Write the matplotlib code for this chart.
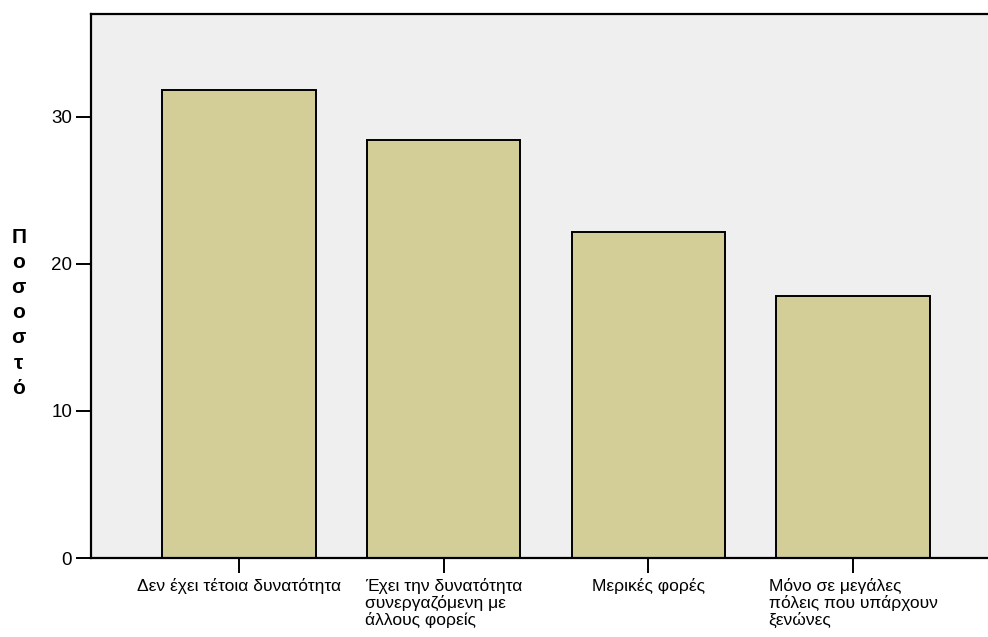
import matplotlib.pyplot as plt

plt.rcParams['font.family'] = ['Liberation Sans', 'DejaVu Sans']

categories = ['Δεν έχει τέτοια δυνατότητα',
              'Έχει την δυνατότητα\nσυνεργαζόμενη με\nάλλους φορείς',
              'Μερικές φορές',
              'Μόνο σε μεγάλες\nπόλεις που υπάρχουν\nξενώνες']
percent = [31.8, 28.4, 22.2, 17.8]
yticks = [0, 10, 20, 30]
ylabel = 'Ποσοστό'

fig = plt.figure(figsize=(9.88, 6.37), dpi=100)
ax = fig.add_axes([0.0921, 0.124, 0.921, 0.854])
ax.set_facecolor('#efefef')

x = range(len(categories))
ax.bar(x, percent, width=0.75, color='#d3ce98', edgecolor='black', linewidth=1.4)

ax.set_xlim(-0.723, 3.723)
ax.set_ylim(0, 37)
ax.set_yticks(yticks)
ax.set_xticks(list(x))
ax.set_xticklabels(categories, fontsize=12.5, linespacing=1.07,
                   multialignment='left', va='top')
for lbl in ax.get_yticklabels():
    lbl.set_fontsize(13.5)
ax.tick_params(axis='both', direction='out', length=10.5, width=1.4, color='black')
ax.tick_params(axis='y', pad=3)
ax.tick_params(axis='x', pad=4)

for s in ax.spines.values():
    s.set_linewidth(1.6)
    s.set_color('black')

fig.text(0.019, 0.509, '\n'.join(ylabel), fontsize=15, fontweight='bold',
         ha='center', va='center', linespacing=1.41)

fig.savefig('out.png', dpi=100)
